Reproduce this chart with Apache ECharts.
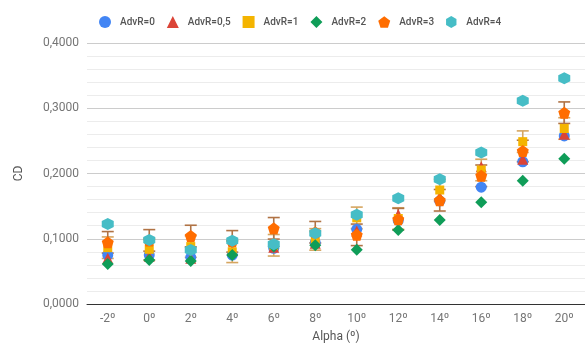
<!DOCTYPE html>
<html>
<head>
<meta charset="utf-8">
<script src="https://cdn.jsdelivr.net/npm/echarts@6/dist/echarts.min.js"></script>
<style>
  html, body { margin: 0; padding: 0; background: #fff; }
  #chart { width: 585px; height: 355px; }
</style>
</head>
<body>
<div id="chart"></div>
<script>
// Angle of attack categories
const alphaLabels = ['-2º', '0º', '2º', '4º', '6º', '8º', '10º', '12º', '14º', '16º', '18º', '20º'];

// Drag coefficient per advance ratio
const cdAdvR0  = [0.0751, 0.0750, 0.0715, 0.0750, 0.0853, 0.0940, 0.1145, 0.1280, 0.1580, 0.1790, 0.2180, 0.2575];
const cdAdvR05 = [0.0700, 0.0730, 0.0700, 0.0820, 0.0870, 0.0930, 0.1120, 0.1370, 0.1645, 0.2105, 0.2220, 0.2600];
const cdAdvR1  = [0.0863, 0.0838, 0.0880, 0.0800, 0.0900, 0.0990, 0.1320, 0.1310, 0.1747, 0.2054, 0.2488, 0.2690];
const cdAdvR2  = [0.0613, 0.0674, 0.0659, 0.0750, 0.0880, 0.0900, 0.0830, 0.1134, 0.1287, 0.1560, 0.1890, 0.2227];
const cdAdvR3  = [0.0945, 0.0975, 0.1042, 0.0960, 0.1160, 0.1100, 0.1060, 0.1300, 0.1590, 0.1965, 0.2345, 0.2932];
const cdAdvR4  = [0.1226, 0.0981, 0.0828, 0.0970, 0.0914, 0.1083, 0.1369, 0.1620, 0.1910, 0.2320, 0.3116, 0.3460];

// Error half-widths
const errAdvR1 = [0.0165, 0.0165, 0.0165, 0.0165, 0.0165, 0.0165, 0.0165, 0.0165, 0.0165, 0.0165, 0.0165, 0.0165];
const errAdvR3 = [0.0165, 0.0165, 0.0165, 0.0165, 0.0165, 0.0165, 0.0165, 0.0165, 0.0165, 0.0165, 0.0165, 0.0165];

const yTicks = [0, 0.1, 0.2, 0.3, 0.4];

const pentagon = 'path://M0,-10 L9.51,-3.09 L5.88,8.09 L-5.88,8.09 L-9.51,-3.09 Z';
const hexagon  = 'path://M0,-10 L8.66,-5 L8.66,5 L0,10 L-8.66,5 L-8.66,-5 Z';

const seriesDefs = [
  { name: 'AdvR=0',   data: cdAdvR0,  color: '#4285F4', symbol: 'circle',   size: 11 },
  { name: 'AdvR=0,5', data: cdAdvR05, color: '#DB4437', symbol: 'triangle', size: 11 },
  { name: 'AdvR=1',   data: cdAdvR1,  color: '#F4B400', symbol: 'rect',     size: 9 },
  { name: 'AdvR=2',   data: cdAdvR2,  color: '#0F9D58', symbol: 'diamond',  size: 12 },
  { name: 'AdvR=3',   data: cdAdvR3,  color: '#FF6D00', symbol: pentagon,   size: 12 },
  { name: 'AdvR=4',   data: cdAdvR4,  color: '#46BDC6', symbol: hexagon,    size: 12 }
];

function errorBars(values, errs, color, z) {
  return {
    type: 'custom',
    name: 'err',
    silent: true,
    z: z,
    data: values.map((v, i) => [i, v - errs[i], v + errs[i]]),
    renderItem: function (params, api) {
      const lo = api.coord([api.value(0), api.value(1)]);
      const hi = api.coord([api.value(0), api.value(2)]);
      const hw = 6;
      const style = { stroke: color, lineWidth: 1.6, fill: null };
      return {
        type: 'group',
        children: [
          { type: 'line', shape: { x1: lo[0], y1: lo[1], x2: hi[0], y2: hi[1] }, style: style },
          { type: 'line', shape: { x1: lo[0] - hw, y1: lo[1], x2: lo[0] + hw, y2: lo[1] }, style: style },
          { type: 'line', shape: { x1: hi[0] - hw, y1: hi[1], x2: hi[0] + hw, y2: hi[1] }, style: style }
        ]
      };
    }
  };
}

const chart = echarts.init(document.getElementById('chart'), null, { renderer: 'canvas' });

const option = {
  animation: false,
  textStyle: { fontFamily: 'Roboto, sans-serif' },
  legend: {
    top: 11,
    left: 94,
    itemGap: 12,
    itemWidth: 12,
    itemHeight: 12,
    textStyle: { color: '#555', fontSize: 10, fontWeight: 500, padding: [0, 0, 0, 4] },
    data: seriesDefs.map(s => ({ name: s.name, icon: s.symbol }))
  },
  grid: { left: 87, right: 0, top: 43, bottom: 51 },
  xAxis: {
    type: 'category',
    data: alphaLabels,
    boundaryGap: true,
    name: 'Alpha (º)',
    nameLocation: 'middle',
    nameGap: 27,
    nameTextStyle: { color: '#555', fontSize: 12 },
    axisLine: { lineStyle: { color: '#333', width: 1 } },
    axisTick: { show: false },
    axisLabel: { color: '#757575', fontSize: 12, margin: 9 },
    splitLine: { show: false }
  },
  yAxis: {
    type: 'value',
    min: yTicks[0],
    max: yTicks[yTicks.length - 1],
    interval: 0.1,
    name: 'CD',
    nameLocation: 'middle',
    nameGap: 62,
    nameTextStyle: { color: '#555', fontSize: 12 },
    axisLine: { show: false },
    axisTick: { show: false },
    axisLabel: {
      color: '#757575', fontSize: 12, margin: 8,
      formatter: v => v.toFixed(4).replace('.', ',')
    },
    splitLine: { lineStyle: { color: '#cccccc', width: 1 } },
    minorTick: { show: false, splitNumber: 5 },
    minorSplitLine: { show: true, lineStyle: { color: '#ececec', width: 1 } }
  },
  series: [
    errorBars(cdAdvR1, errAdvR1, '#d6a660', 2),
    errorBars(cdAdvR3, errAdvR3, '#b07345', 2)
  ].concat(seriesDefs.map((s, k) => ({
    type: 'scatter',
    name: s.name,
    data: s.data,
    symbol: s.symbol,
    symbolSize: s.size,
    itemStyle: { color: s.color, opacity: 1 },
    z: 3 + k
  })))
};

chart.setOption(option);
</script>
</body>
</html>
